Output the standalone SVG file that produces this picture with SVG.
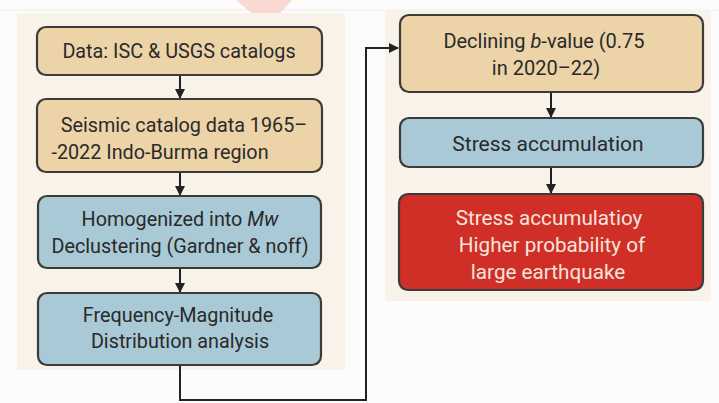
<svg xmlns="http://www.w3.org/2000/svg" width="719" height="403" viewBox="0 0 719 403">
<defs>
<marker id="ah" viewBox="0 0 10 10" refX="9" refY="5" markerWidth="5" markerHeight="5" orient="auto">
<path d="M0,0 L10,5 L0,10 z" fill="#222"/>
</marker>
<style>
.box{stroke:#3b3b3b;stroke-width:2.2}
.tan{fill:#ecd4a8}
.blue{fill:#a8c9d5}
.red{fill:#cf2f27}
.t{font-family:Roboto,"Liberation Sans",sans-serif;font-size:19.8px;fill:#2a2a2a;text-anchor:middle}
.w{fill:#f7e4dc;font-size:20.7px}
.conn{stroke:#222;stroke-width:2;fill:none}
</style>
</defs>
<rect width="719" height="403" fill="#fcfcfc"/>
<line x1="0" y1="10" x2="719" y2="10" stroke="#ececec" stroke-width="1"/>
<path d="M236,0 L292,0 L272,22 L262,22 Z" fill="#fbd9d3"/>
<rect x="17" y="13" width="328" height="357" fill="#f9f2e8"/>
<rect x="385" y="11" width="326" height="290" fill="#f9f2e8"/>
<g id="connectors">
<line class="conn" x1="180" y1="75" x2="180" y2="98" marker-end="url(#ah)"/>
<line class="conn" x1="180" y1="172" x2="180" y2="195" marker-end="url(#ah)"/>
<line class="conn" x1="180" y1="268" x2="180" y2="292" marker-end="url(#ah)"/>
<polyline class="conn" points="180,365 180,400 366,400 366,48 398,48" marker-end="url(#ah)"/>
<line class="conn" x1="551" y1="92" x2="551" y2="117" marker-end="url(#ah)"/>
<line class="conn" x1="551" y1="167" x2="551" y2="193" marker-end="url(#ah)"/>
</g>
<g id="n1"><rect class="box tan" x="37" y="27" width="285" height="48" rx="9"/><text class="t" x="179" y="58">Data: ISC &amp; USGS catalogs</text></g>
<g id="n2"><rect class="box tan" x="37" y="99" width="285" height="73" rx="9"/><text class="t" x="184" y="132">Seismic catalog data 1965–</text><text class="t" x="160" y="159">-2022 Indo-Burma region</text></g>
<g id="n3"><rect class="box blue" x="38" y="196" width="283" height="72" rx="9"/><text class="t" x="180" y="226">Homogenized into <tspan font-style="italic">Mw</tspan></text><text class="t" x="180" y="253">Declustering (Gardner &amp; noff)</text></g>
<g id="n4"><rect class="box blue" x="38" y="293" width="283" height="72" rx="9"/><text class="t" x="178" y="322">Frequency-Magnitude</text><text class="t" x="180" y="348">Distribution analysis</text></g>
<g id="n5"><rect class="box tan" x="400" y="15" width="303" height="77" rx="9"/><text class="t" x="544" y="48" style="font-size:20px">Declining <tspan font-style="italic">b</tspan>-value (0.75</text><text class="t" x="546" y="75" style="font-size:20px">in 2020–22)</text></g>
<g id="n6"><rect class="box blue" x="400" y="118" width="303" height="49" rx="9"/><text class="t" x="548" y="151" style="font-size:21px">Stress accumulation</text></g>
<g id="n7"><rect class="box red" x="399" y="194" width="304" height="96" rx="9"/><text class="t w" x="549" y="225">Stress accumulatioy</text><text class="t w" x="552" y="252">Higher probability of</text><text class="t w" x="548" y="279">large earthquake</text></g>
</svg>
